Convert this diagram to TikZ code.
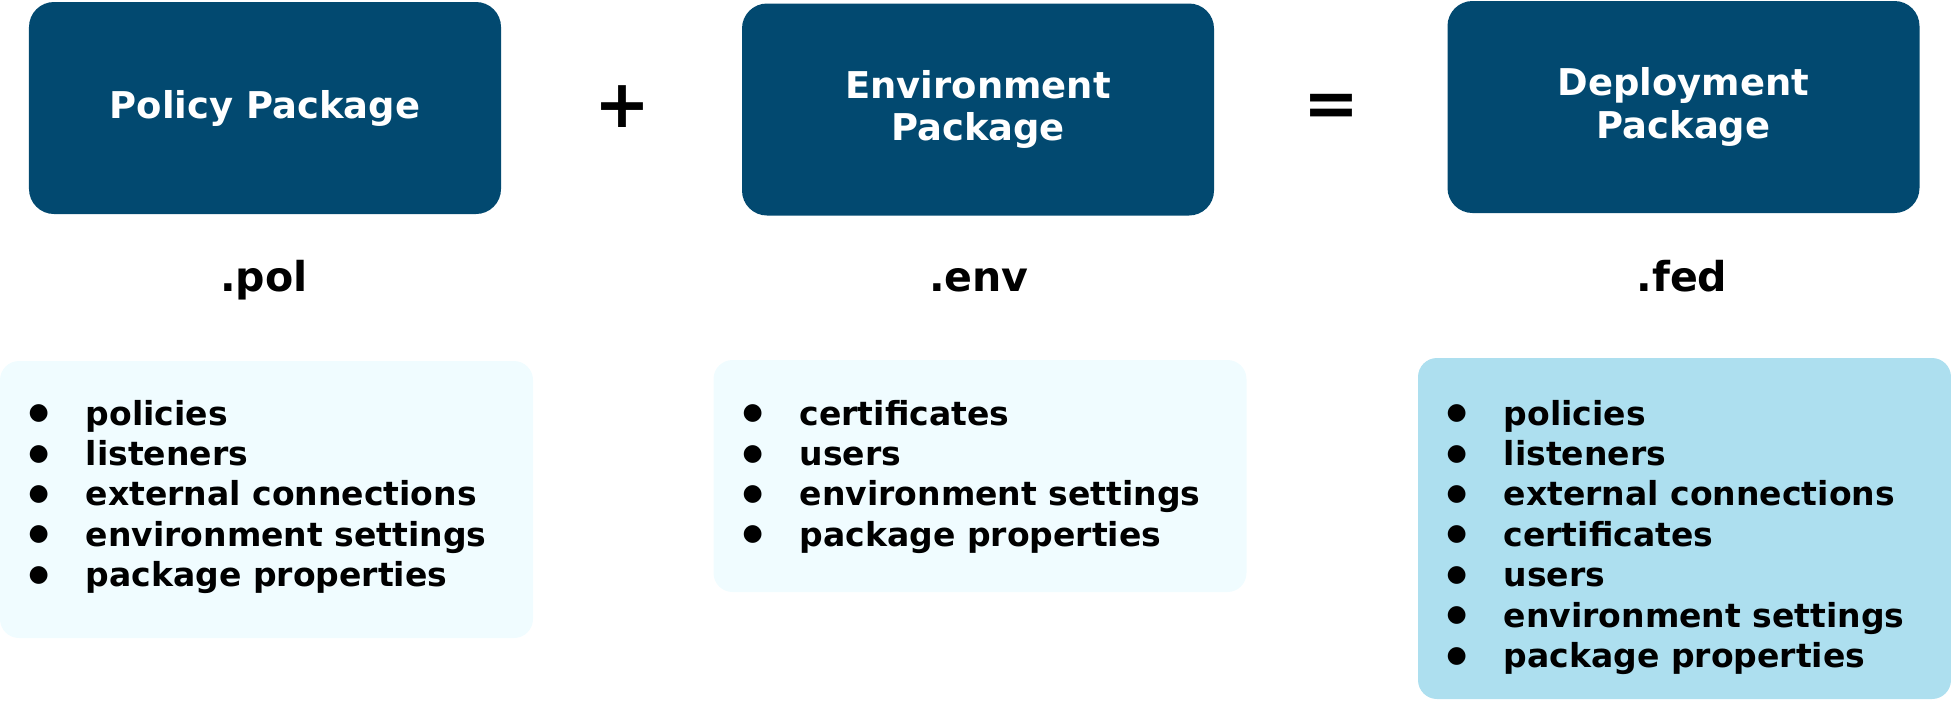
\documentclass[tikz,border=0pt]{standalone}
\usepackage{fontspec}
\setmainfont{DejaVu Sans}
\usepackage{xcolor}
\definecolor{navy}{HTML}{024970}
\definecolor{pale}{HTML}{F0FCFF}
\definecolor{sky}{HTML}{ADDFEF}
\tikzstyle{pkg}    = [rounded corners=0.25cm, fill=navy, text=white, minimum width=4.72cm, minimum height=2.12cm, align=center, font=\fontsize{10.5}{12}\selectfont\bfseries]
\tikzstyle{ext}    = [inner sep=0pt, text height=0.32cm, text depth=0.09cm, font=\fontsize{11.7}{14}\selectfont\bfseries]
\tikzstyle{op}     = [inner sep=0pt, font=\fontsize{19}{19}\selectfont\bfseries]
\tikzstyle{listbg} = [rounded corners=0.19cm, minimum width=5.33cm, inner sep=0pt]
\tikzstyle{items}  = [anchor=base west, inner sep=0pt, font=\fontsize{9.4}{11.5}\selectfont\bfseries]
\newcommand{\itm}[1]{\makebox[0.62cm][l]{\makebox[0.30cm]{\raisebox{1.5pt}{\fontsize{6.6}{7}\selectfont ●}}}#1}

\begin{document}
\begin{tikzpicture}[scale=1]
\useasboundingbox (0,0) rectangle (19.51,-7.01);

\node[pkg] (pol) at (2.65,-1.08)  {Policy Package};
\node[pkg] (env) at (9.78,-1.095) {Environment\\Package};
\node[pkg] (fed) at (16.835,-1.07) {Deployment\\Package};

\node[op] (plus)   at (6.225,-1.065) {+};
\node[op] (equals) at (13.31,-1.10)  {=};

\node[ext] (polext) at (2.64,-2.80)  {.pol};
\node[ext] (envext) at (9.79,-2.80)  {.env};
\node[ext] (fedext) at (16.82,-2.80) {.fed};

\node[listbg, fill=pale, minimum height=2.77cm] (polbg) at (2.665,-4.995) {};
\node[listbg, fill=pale, minimum height=2.32cm] (envbg) at (9.80,-4.76)   {};
\node[listbg, fill=sky,  minimum height=3.41cm] (fedbg) at (16.845,-5.285) {};

\node[items] (pollist) at (0.23,-4.25) {\begin{tabular}[t]{@{}l@{}}
\itm{policies}\\ \itm{listeners}\\ \itm{external connections}\\
\itm{environment settings}\\ \itm{package properties}
\end{tabular}};
\node[items] (envlist) at (7.37,-4.25) {\begin{tabular}[t]{@{}l@{}}
\itm{certificates}\\ \itm{users}\\ \itm{environment settings}\\
\itm{package properties}
\end{tabular}};
\node[items] (fedlist) at (14.41,-4.25) {\begin{tabular}[t]{@{}l@{}}
\itm{policies}\\ \itm{listeners}\\ \itm{external connections}\\
\itm{certificates}\\ \itm{users}\\ \itm{environment settings}\\
\itm{package properties}
\end{tabular}};

\end{tikzpicture}
\end{document}
